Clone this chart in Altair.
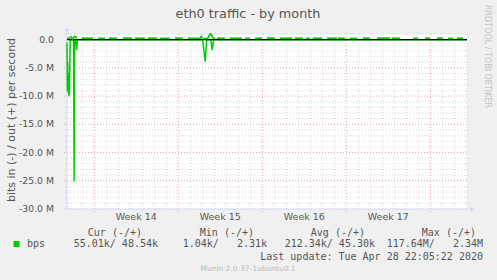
import altair as alt
import pandas as pd

# ---------------- texts ----------------
TITLE = "eth0 traffic - by month"
Y_TITLE = "bits in (-) / out (+) per second"
WATERMARK = "RRDTOOL / TOBI OETIKER"
FOOTER = "Munin 2.0.37-1ubuntu0.1"
LAST_UPDATE = "Last update: Tue Apr 28 22:05:22 2020"
SERIES_NAME = "bps"
legend_headers = ["Cur (-/+)", "Min (-/+)", "Avg (-/+)", "Max (-/+)"]
legend_values = ["55.01k/ 48.54k", "1.04k/   2.31k", "212.34k/ 45.30k", "117.64M/   2.34M"]

# ---------------- axes ----------------
# x: days since Mon 30 Mar 2020 00:00, y: millions of bits per second
X_DOMAIN = [-2.27, 31.06]
Y_DOMAIN = [-30, 1]
week_starts = [0, 7, 14, 21, 28]
day_lines = [-2, -1, 1, 2, 3, 4, 5, 6, 8, 9, 10, 11, 12, 13, 15, 16, 17, 18, 19, 20,
             22, 23, 24, 25, 26, 27, 29, 30, 31]
week_label_pos = [3.5, 10.5, 17.5, 24.5]
week_labels = ["Week 14", "Week 15", "Week 16", "Week 17"]
y_label_vals = [0, -5, -10, -15, -20, -25, -30]
y_labels = ["0.0", "-5.0 M", "-10.0 M", "-15.0 M", "-20.0 M", "-25.0 M", "-30.0 M"]
minor_y = [1, -1, -2, -3, -4, -6, -7, -8, -9, -11, -12, -13, -14, -16, -17, -18, -19,
           -21, -22, -23, -24, -26, -27, -28, -29]
major_y = [-5, -10, -15, -20, -25]

# ---------------- data ----------------
# inbound traffic (drawn negative)
in_day = [-2.27, -2.24, -2.21, -2.18, -2.14, -2.11, -2.07, -2.03, -2.0,
          -1.72, -1.68, -1.64,
          -1.55, -1.5, -1.47, -1.43, -1.4,
          9.03, 9.25, 9.36,
          9.72, 9.83, 9.95, 31.06]
in_val = [-0.5, -9.0, -4.0, -9.4, -6.0, -9.8, -9.7, -3.0, 0.0,
          0.0, -25.1, 0.0,
          0.0, -1.2, -1.8, -1.0, 0.0,
          0.0, -3.9, 0.0,
          0.0, -1.8, 0.0, 0.0]

# outbound traffic: irregular bumps
bump_seg = [0, 0, 0, 0, 0, 0, 0, 0, 0,
            1, 1, 1, 1,
            2, 2, 2, 2, 2, 2, 2, 2]
bump_day = [-2.27, -2.1, -1.95, -1.85, -1.78, -1.7, -1.62, -1.55, -1.45,
            7.81, 8.85, 8.92, 8.99,
            9.05, 9.45, 9.55, 9.65, 9.75, 9.85, 9.95, 10.1]
bump_val = [0.2, 0.3, 0.5, 0.2, 0.1, 0.45, 0.6, 0.5, 0.2,
            0.25, 0.25, 0.55, 0.25,
            0.2, 0.2, 0.6, 1.0, 0.95, 0.5, 0.2, 0.2]

# outbound traffic: daily activity periods
seg_start = [-1.03, 0.31, 1.22, 2.39, 3.39, 4.48, 5.48, 6.73, 10.22, 11.31, 12.56,
             13.39, 14.39, 15.48, 16.73, 17.64, 18.2, 19.39, 20.31, 21.31, 22.39,
             23.56, 24.81, 26.56, 27.56, 28.56, 29.48, 30.23]
seg_end = [-0.11, 0.89, 1.89, 3.14, 4.22, 5.23, 6.31, 7.39, 10.89, 12.31, 12.97,
           13.97, 15.06, 16.48, 17.39, 17.97, 18.98, 20.23, 20.89, 21.89, 22.98,
           24.64, 25.48, 26.98, 27.98, 29.06, 29.89, 30.73]
seg_val = [0.25, 0.22, 0.25, 0.28, 0.25, 0.25, 0.22, 0.25, 0.25, 0.25, 0.22,
           0.25, 0.28, 0.25, 0.25, 0.22, 0.25, 0.25, 0.25, 0.22, 0.25,
           0.28, 0.25, 0.22, 0.25, 0.25, 0.22, 0.25]

# ---------------- build tables ----------------
in_df = pd.DataFrame({"day": in_day, "v": in_val, "seg": "in"})
rows = []
for s, d, v in zip(bump_seg, bump_day, bump_val):
    rows.append({"day": d, "v": v, "seg": f"b{s}"})
for i, (a, b, v) in enumerate(zip(seg_start, seg_end, seg_val)):
    rows.append({"day": a, "v": v, "seg": f"s{i}"})
    rows.append({"day": b, "v": v, "seg": f"s{i}"})
out_df = pd.DataFrame(rows)

OX, OY = 67, 34
W, H = 400, 175
GREEN = "#00cc00"
AXIS = "#cfd6f8"
FONT = "#555555"
NBSP = "\u00a0"

xs = alt.Scale(domain=X_DOMAIN, nice=False, zero=False)
ys = alt.Scale(domain=Y_DOMAIN, nice=False, zero=False)
one = pd.DataFrame({"a": [0]})


def keep_spaces(s):
    return s.replace(" ", NBSP)


def txt(text, x, y, size=9.3, color=FONT, font="DejaVu Sans", align="left", angle=0,
        baseline="middle"):
    return alt.Chart(one).mark_text(text=text, font=font, fontSize=size, color=color,
                                    align=align, angle=angle, baseline=baseline).encode(
        x=alt.value(x - OX), y=alt.value(y - OY))


vgrid = alt.Chart(pd.DataFrame({"d": day_lines})).mark_rule(
    color="#8f8f8f", strokeOpacity=0.35, strokeDash=[1, 2], strokeWidth=1).encode(
    x=alt.X("d:Q", scale=xs, axis=None), y=alt.value(0), y2=alt.value(H + 2))
vmaj = alt.Chart(pd.DataFrame({"d": week_starts})).mark_rule(
    color="#de3030", strokeOpacity=0.45, strokeDash=[1, 2], strokeWidth=1).encode(
    x=alt.X("d:Q", scale=xs, axis=None), y=alt.value(0), y2=alt.value(H + 3))
hgrid = alt.Chart(pd.DataFrame({"v": minor_y})).mark_rule(
    color="#8f8f8f", strokeOpacity=0.35, strokeDash=[1, 2], strokeWidth=1).encode(
    y=alt.Y("v:Q", scale=ys, axis=None), x=alt.value(-2), x2=alt.value(W + 2))
hmaj = alt.Chart(pd.DataFrame({"v": major_y})).mark_rule(
    color="#de3030", strokeOpacity=0.45, strokeDash=[1, 2], strokeWidth=1).encode(
    y=alt.Y("v:Q", scale=ys, axis=None), x=alt.value(-3), x2=alt.value(W + 2))

yaxis = alt.Chart(one).mark_rule(color=AXIS, strokeWidth=1).encode(
    x=alt.value(0), y=alt.value(-3), y2=alt.value(H + 1))
xaxis = alt.Chart(one).mark_rule(color=AXIS, strokeWidth=1).encode(
    y=alt.value(H), x=alt.value(-3), x2=alt.value(W + 2))
arrow_up = alt.Chart(one).mark_point(shape="triangle-up", filled=True, size=22,
                                     color=AXIS, opacity=1).encode(
    x=alt.value(0), y=alt.value(-5))
arrow_right = alt.Chart(one).mark_point(shape="triangle-right", filled=True, size=22,
                                        color=AXIS, opacity=1).encode(
    x=alt.value(W + 5), y=alt.value(H))

in_line = alt.Chart(in_df).mark_line(color=GREEN, strokeWidth=1.5).encode(
    x=alt.X("day:Q", scale=xs, axis=None), y=alt.Y("v:Q", scale=ys, axis=None),
    detail="seg:N")
zero = alt.Chart(pd.DataFrame({"v": [0]})).mark_rule(color="black", strokeWidth=1.4).encode(
    y=alt.Y("v:Q", scale=ys, axis=None), x=alt.value(0), x2=alt.value(W))
out_line = alt.Chart(out_df).mark_line(color=GREEN, strokeWidth=1.7).encode(
    x=alt.X("day:Q", scale=xs, axis=None), y=alt.Y("v:Q", scale=ys, axis=None),
    detail="seg:N")

ylab = alt.Chart(pd.DataFrame({"v": y_label_vals, "t": y_labels})).mark_text(
    align="right", baseline="middle", font="DejaVu Sans", fontSize=9.3, color=FONT).encode(
    y=alt.Y("v:Q", scale=ys, axis=None), x=alt.value(54 - OX), text="t:N")
xlab = alt.Chart(pd.DataFrame({"d": week_label_pos, "t": week_labels})).mark_text(
    align="center", baseline="middle", font="DejaVu Sans", fontSize=9.5, color=FONT).encode(
    x=alt.X("d:Q", scale=xs, axis=None), y=alt.value(217 - OY), text="t:N")

texts = [
    txt(TITLE, 248, 14, size=12.8, align="center"),
    txt(Y_TITLE, 12, 120, size=11, align="center", angle=270),
    txt(WATERMARK, 487, 5, size=8, color="#c4c4c4", align="left", angle=90),
    txt(FOOTER, 248, 269, size=7.5, color="#bbbbbb", align="center"),
    txt(SERIES_NAME, 27, 244, size=10, font="DejaVu Sans Mono"),
    txt(keep_spaces(LAST_UPDATE), 483, 256.5, size=10, font="DejaVu Sans Mono", align="right"),
]
for h, xr in zip(legend_headers, [142, 254, 365, 476]):
    texts.append(txt(keep_spaces(h), xr, 232.5, size=10, font="DejaVu Sans Mono", align="right"))
for v, xr in zip(legend_values, [158, 267, 375, 483]):
    texts.append(txt(keep_spaces(v), xr, 244, size=10, font="DejaVu Sans Mono", align="right"))

swatch = alt.Chart(one).mark_point(shape="square", filled=True, size=36, color=GREEN,
                                   opacity=1).encode(
    x=alt.value(16.5 - OX), y=alt.value(244 - OY))

chart = alt.layer(
    vgrid, vmaj, hgrid, hmaj, yaxis, xaxis, arrow_up, arrow_right,
    in_line, zero, out_line, ylab, xlab, swatch, *texts
).properties(
    width=W, height=H,
    padding={"left": OX, "top": OY, "right": 497 - OX - W, "bottom": 280 - OY - H},
    autosize=alt.AutoSizeParams(type="none"),
    background="#f0f0f0",
).configure_view(stroke=None, fill="white")

chart.save("out.html", embed_options={"renderer": "svg", "actions": False})
